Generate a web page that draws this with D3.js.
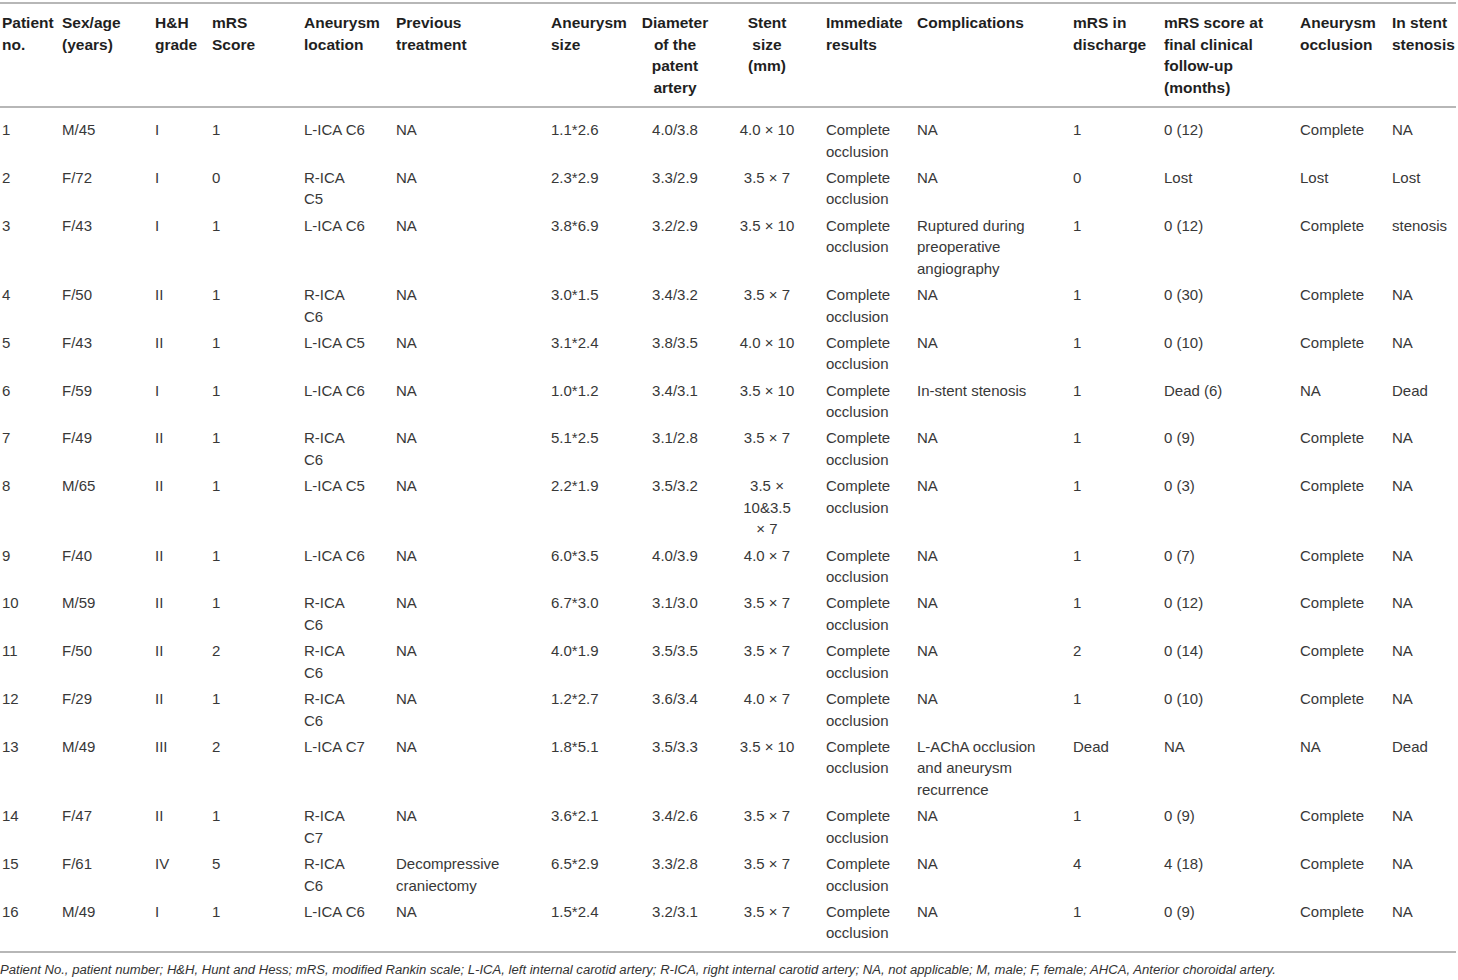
<!DOCTYPE html>
<html>
<head>
<meta charset="utf-8">
<script src="https://cdn.jsdelivr.net/npm/d3@7"></script>
<style>
  html, body { margin: 0; padding: 0; background: #ffffff; }
  svg { display: block; }
</style>
</head>
<body>
<svg id="chart" width="1458" height="980"></svg>
<script>
// ---------------- DATA ----------------
const headers = [
  "Patient\nno.", "Sex/age\n(years)", "H&H\ngrade", "mRS\nScore", "Aneurysm\nlocation",
  "Previous\ntreatment", "Aneurysm\nsize", "Diameter\nof the\npatent\nartery", "Stent\nsize\n(mm)",
  "Immediate\nresults", "Complications", "mRS in\ndischarge",
  "mRS score at\nfinal clinical\nfollow-up\n(months)", "Aneurysm\nocclusion", "In stent\nstenosis"
];

const patientNo = ["1","2","3","4","5","6","7","8","9","10","11","12","13","14","15","16"];
const sexAge = ["M/45","F/72","F/43","F/50","F/43","F/59","F/49","M/65","F/40","M/59","F/50","F/29","M/49","F/47","F/61","M/49"];
const hhGrade = ["I","I","I","II","II","I","II","II","II","II","II","II","III","II","IV","I"];
const mrsScore = ["1","0","1","1","1","1","1","1","1","1","2","1","2","1","5","1"];
const aneurysmLocation = ["L-ICA C6","R-ICA\nC5","L-ICA C6","R-ICA\nC6","L-ICA C5","L-ICA C6","R-ICA\nC6","L-ICA C5",
                  "L-ICA C6","R-ICA\nC6","R-ICA\nC6","R-ICA\nC6","L-ICA C7","R-ICA\nC7","R-ICA\nC6","L-ICA C6"];
const prevTreatment = ["NA","NA","NA","NA","NA","NA","NA","NA","NA","NA","NA","NA","NA","NA","Decompressive\ncraniectomy","NA"];
const aneurysmSize = ["1.1*2.6","2.3*2.9","3.8*6.9","3.0*1.5","3.1*2.4","1.0*1.2","5.1*2.5","2.2*1.9",
                      "6.0*3.5","6.7*3.0","4.0*1.9","1.2*2.7","1.8*5.1","3.6*2.1","6.5*2.9","1.5*2.4"];
const diameter = ["4.0/3.8","3.3/2.9","3.2/2.9","3.4/3.2","3.8/3.5","3.4/3.1","3.1/2.8","3.5/3.2",
                  "4.0/3.9","3.1/3.0","3.5/3.5","3.6/3.4","3.5/3.3","3.4/2.6","3.3/2.8","3.2/3.1"];
const stentSize = ["4.0 × 10","3.5 × 7","3.5 × 10","3.5 × 7","4.0 × 10","3.5 × 10","3.5 × 7","3.5 ×\n10&3.5\n× 7",
                   "4.0 × 7","3.5 × 7","3.5 × 7","4.0 × 7","3.5 × 10","3.5 × 7","3.5 × 7","3.5 × 7"];
const immediate = Array.from({length: 16}, () => "Complete\nocclusion");
const complications = ["NA","NA","Ruptured during\npreoperative\nangiography","NA","NA","In-stent stenosis","NA","NA",
                       "NA","NA","NA","NA","L-AChA occlusion\nand aneurysm\nrecurrence","NA","NA","NA"];
const mrsDischarge = ["1","0","1","1","1","1","1","1","1","1","2","1","Dead","1","4","1"];
const mrsFinal = ["0 (12)","Lost","0 (12)","0 (30)","0 (10)","Dead (6)","0 (9)","0 (3)",
                  "0 (7)","0 (12)","0 (14)","0 (10)","NA","0 (9)","4 (18)","0 (9)"];
const occlusion = ["Complete","Lost","Complete","Complete","Complete","NA","Complete","Complete",
                   "Complete","Complete","Complete","Complete","NA","Complete","Complete","Complete"];
const inStent = ["NA","Lost","stenosis","NA","NA","Dead","NA","NA","NA","NA","NA","NA","Dead","NA","NA","NA"];

const footnote = "Patient No., patient number; H&H, Hunt and Hess; mRS, modified Rankin scale; L-ICA, left internal carotid artery; R-ICA, right internal carotid artery; NA, not applicable; M, male; F, female; AHCA, Anterior choroidal artery.";

// ---------------- LAYOUT ----------------
const columns = [patientNo, sexAge, hhGrade, mrsScore, aneurysmLocation, prevTreatment, aneurysmSize, diameter,
                 stentSize, immediate, complications, mrsDischarge, mrsFinal, occlusion, inStent];
const colX =      [2, 62, 155, 212, 304, 396, 551, 675, 767, 826, 917, 1073, 1164, 1300, 1392];
const colAnchor = ["start","start","start","start","start","start","start","middle","middle",
                   "start","start","start","start","start","start"];

const W = 1458, H = 980;
const lineH = 21.6;
const rowPad = 4.6;
const fontFamily = "'Liberation Sans', Arial, Helvetica, sans-serif";

const svg = d3.select("#chart");
svg.append("rect").attr("width", W).attr("height", H).attr("fill", "#ffffff");

const rowsData = patientNo.map((_, i) => columns.map(c => c[i].split("\n")));
const lineCounts = rowsData.map(r => d3.max(r, c => c.length));
const cum = [0];
lineCounts.forEach(n => cum.push(cum[cum.length - 1] + n * lineH + rowPad));

// vertical scale: cumulative row offset -> pixel
const bodyTop = 107;
const y = d3.scaleLinear().domain([0, 1]).range([bodyTop, bodyTop + 1]);

// rules
const ruleColor = "#b7b7b7";
[3, 107, 952].forEach(yy => {
  svg.append("line").attr("x1", 0).attr("x2", 1456).attr("y1", yy).attr("y2", yy)
    .attr("stroke", ruleColor).attr("stroke-width", 2);
});

// header
const hdr = svg.append("g").attr("font-family", fontFamily).attr("font-size", 15.5)
  .attr("font-weight", "bold").attr("fill", "#1f1f1f");
headers.forEach((h, j) => {
  const t = hdr.append("text").attr("text-anchor", colAnchor[j]);
  h.split("\n").forEach((ln, k) => {
    t.append("tspan").attr("x", colX[j]).attr("y", 28 + k * lineH).text(ln);
  });
});

// body
const body = svg.append("g").attr("font-family", fontFamily).attr("font-size", 15)
  .attr("fill", "#383838");
const rowG = body.selectAll("g.row").data(rowsData).join("g")
  .attr("class", "row")
  .attr("transform", (d, i) => `translate(0,${y(cum[i])})`);
rowG.each(function(r) {
  const g = d3.select(this);
  r.forEach((lines, j) => {
    const t = g.append("text").attr("text-anchor", colAnchor[j]);
    lines.forEach((ln, k) => {
      t.append("tspan").attr("x", colX[j]).attr("y", 28 + k * lineH).text(ln);
    });
  });
});

// footnote
svg.append("text").attr("x", 0).attr("y", 974)
  .attr("font-family", fontFamily).attr("font-size", 13.12).attr("font-style", "italic")
  .attr("fill", "#333333").text(footnote);
</script>
</body>
</html>
